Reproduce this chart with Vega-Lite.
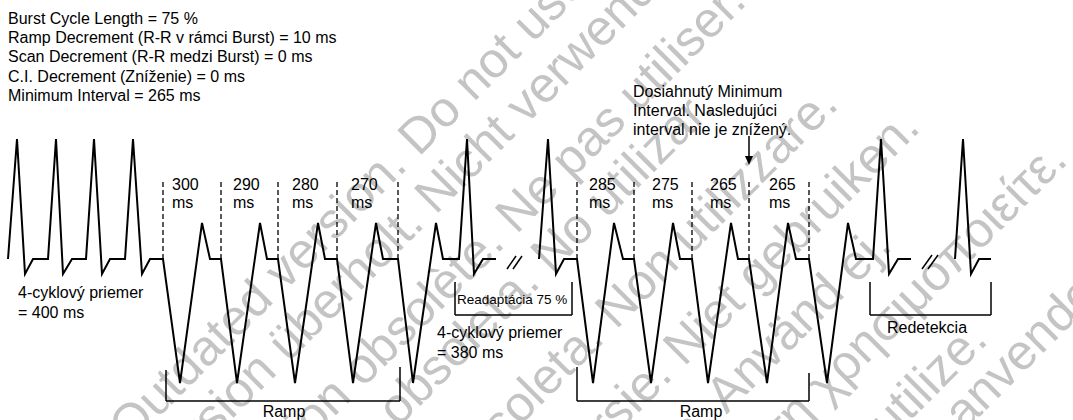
{
  "$schema": "https://vega.github.io/schema/vega-lite/v6.json",
  "autosize": "none",
  "width": 1073,
  "height": 420,
  "padding": 0,
  "background": "white",
  "config": {"view": {"stroke": null}, "text": {"font": "Liberation Sans", "color": "#000000"}},
  "datasets": {
    "wm": [
      {"x": 354, "y": 201, "label": "Outdated version. Do not use."},
      {"x": 424, "y": 206, "label": "Version überholt. Nicht verwenden."},
      {"x": 481, "y": 249, "label": "Version obsolète. Ne pas utiliser."},
      {"x": 483, "y": 322, "label": "Versión obsoleta. No utilizar."},
      {"x": 567, "y": 358, "label": "Versione obsoleta. Non utilizzare."},
      {"x": 639, "y": 391, "label": "Verouderde versie. Niet gebruiken."},
      {"x": 653, "y": 467, "label": "Föråldrad version. Använd ej."},
      {"x": 760, "y": 450, "label": "Παλιά έκδοση. Μην τη χρησιμοποιείτε."},
      {"x": 755, "y": 555, "label": "Versão obsoleta. Não utilize."},
      {"x": 827, "y": 548, "label": "Forældet version. Må ikke anvendes."}
    ],
    "ecg": [
      {"seg": 1, "i": 1, "x": 8, "y": 259}, {"seg": 1, "i": 2, "x": 17, "y": 139}, {"seg": 1, "i": 3, "x": 25, "y": 274}, {"seg": 1, "i": 4, "x": 33, "y": 259}, {"seg": 1, "i": 5, "x": 48, "y": 259},
      {"seg": 1, "i": 6, "x": 56, "y": 139}, {"seg": 1, "i": 7, "x": 63, "y": 274}, {"seg": 1, "i": 8, "x": 72, "y": 259}, {"seg": 1, "i": 9, "x": 86, "y": 259},
      {"seg": 1, "i": 10, "x": 94, "y": 139}, {"seg": 1, "i": 11, "x": 102, "y": 274}, {"seg": 1, "i": 12, "x": 110, "y": 259}, {"seg": 1, "i": 13, "x": 125, "y": 259},
      {"seg": 1, "i": 14, "x": 133, "y": 139}, {"seg": 1, "i": 15, "x": 142, "y": 274}, {"seg": 1, "i": 16, "x": 150, "y": 259}, {"seg": 1, "i": 17, "x": 163, "y": 259},
      {"seg": 1, "i": 18, "x": 180, "y": 383}, {"seg": 1, "i": 19, "x": 202, "y": 223}, {"seg": 1, "i": 20, "x": 210, "y": 259}, {"seg": 1, "i": 21, "x": 221, "y": 259},
      {"seg": 1, "i": 22, "x": 237, "y": 383}, {"seg": 1, "i": 23, "x": 260, "y": 223}, {"seg": 1, "i": 24, "x": 267, "y": 259}, {"seg": 1, "i": 25, "x": 278, "y": 259},
      {"seg": 1, "i": 26, "x": 295, "y": 383}, {"seg": 1, "i": 27, "x": 318, "y": 223}, {"seg": 1, "i": 28, "x": 325, "y": 259}, {"seg": 1, "i": 29, "x": 337, "y": 259},
      {"seg": 1, "i": 30, "x": 353, "y": 383}, {"seg": 1, "i": 31, "x": 376, "y": 223}, {"seg": 1, "i": 32, "x": 383, "y": 259}, {"seg": 1, "i": 33, "x": 398, "y": 259},
      {"seg": 1, "i": 34, "x": 413, "y": 383}, {"seg": 1, "i": 35, "x": 436, "y": 223}, {"seg": 1, "i": 36, "x": 443, "y": 259}, {"seg": 1, "i": 37, "x": 459, "y": 259},
      {"seg": 1, "i": 38, "x": 467, "y": 139}, {"seg": 1, "i": 39, "x": 474, "y": 274}, {"seg": 1, "i": 40, "x": 483, "y": 259}, {"seg": 1, "i": 41, "x": 496, "y": 259},
      {"seg": 2, "i": 1, "x": 539, "y": 259}, {"seg": 2, "i": 2, "x": 548, "y": 139}, {"seg": 2, "i": 3, "x": 556, "y": 274}, {"seg": 2, "i": 4, "x": 564, "y": 259}, {"seg": 2, "i": 5, "x": 577, "y": 259},
      {"seg": 2, "i": 6, "x": 593, "y": 383}, {"seg": 2, "i": 7, "x": 614, "y": 223}, {"seg": 2, "i": 8, "x": 623, "y": 259}, {"seg": 2, "i": 9, "x": 634, "y": 259},
      {"seg": 2, "i": 10, "x": 651, "y": 383}, {"seg": 2, "i": 11, "x": 673, "y": 223}, {"seg": 2, "i": 12, "x": 680, "y": 259}, {"seg": 2, "i": 13, "x": 692, "y": 259},
      {"seg": 2, "i": 14, "x": 708, "y": 383}, {"seg": 2, "i": 15, "x": 731, "y": 223}, {"seg": 2, "i": 16, "x": 738, "y": 259}, {"seg": 2, "i": 17, "x": 749, "y": 259},
      {"seg": 2, "i": 18, "x": 767, "y": 383}, {"seg": 2, "i": 19, "x": 788, "y": 223}, {"seg": 2, "i": 20, "x": 796, "y": 259}, {"seg": 2, "i": 21, "x": 809, "y": 259},
      {"seg": 2, "i": 22, "x": 827, "y": 383}, {"seg": 2, "i": 23, "x": 848, "y": 223}, {"seg": 2, "i": 24, "x": 856, "y": 259}, {"seg": 2, "i": 25, "x": 873, "y": 259},
      {"seg": 2, "i": 26, "x": 881, "y": 139}, {"seg": 2, "i": 27, "x": 889, "y": 274}, {"seg": 2, "i": 28, "x": 898, "y": 259}, {"seg": 2, "i": 29, "x": 911, "y": 259},
      {"seg": 3, "i": 1, "x": 955, "y": 259}, {"seg": 3, "i": 2, "x": 963, "y": 139}, {"seg": 3, "i": 3, "x": 971, "y": 274}, {"seg": 3, "i": 4, "x": 979, "y": 259}, {"seg": 3, "i": 5, "x": 991, "y": 259}
    ],
    "segs": [
      {"x": 507, "y": 269, "x2": 516, "y2": 256},
      {"x": 513, "y": 269, "x2": 522, "y2": 256},
      {"x": 922, "y": 269, "x2": 932, "y2": 255},
      {"x": 928, "y": 269, "x2": 938, "y2": 255},
      {"x": 166, "y": 370, "x2": 166, "y2": 401},
      {"x": 166, "y": 401, "x2": 400, "y2": 401},
      {"x": 400, "y": 367, "x2": 400, "y2": 401},
      {"x": 455, "y": 282, "x2": 455, "y2": 315},
      {"x": 455, "y": 315, "x2": 572, "y2": 315},
      {"x": 572, "y": 282, "x2": 572, "y2": 315},
      {"x": 577, "y": 367, "x2": 577, "y2": 401},
      {"x": 577, "y": 401, "x2": 809, "y2": 401},
      {"x": 809, "y": 373, "x2": 809, "y2": 401},
      {"x": 870, "y": 282, "x2": 870, "y2": 315},
      {"x": 870, "y": 315, "x2": 991, "y2": 315},
      {"x": 991, "y": 282, "x2": 991, "y2": 315},
      {"x": 749, "y": 136, "x2": 749, "y2": 158}
    ],
    "dashes": [
      {"x": 163, "y": 182, "y2": 259}, {"x": 221, "y": 182, "y2": 259}, {"x": 278, "y": 182, "y2": 259}, {"x": 337, "y": 182, "y2": 259}, {"x": 398, "y": 182, "y2": 259},
      {"x": 577, "y": 182, "y2": 259}, {"x": 634, "y": 182, "y2": 259}, {"x": 692, "y": 182, "y2": 259}, {"x": 749, "y": 182, "y2": 259}, {"x": 809, "y": 182, "y2": 259}
    ],
    "head": [{"x": 749, "y": 160}],
    "txtL": [
      {"x": 8, "y": 19, "label": "Burst Cycle Length = 75 %"},
      {"x": 8, "y": 38, "label": "Ramp Decrement (R-R v rámci Burst) = 10 ms"},
      {"x": 8, "y": 57, "label": "Scan Decrement (R-R medzi Burst) = 0 ms"},
      {"x": 8, "y": 77, "label": "C.I. Decrement (Zníženie) = 0 ms"},
      {"x": 8, "y": 96, "label": "Minimum Interval = 265 ms"},
      {"x": 18, "y": 293, "label": "4-cyklový priemer"},
      {"x": 18, "y": 313, "label": "= 400 ms"},
      {"x": 437, "y": 333, "label": "4-cyklový priemer"},
      {"x": 437, "y": 353, "label": "= 380 ms"},
      {"x": 633, "y": 92, "label": "Dosiahnutý Minimum"},
      {"x": 633, "y": 111, "label": "Interval. Nasledujúci"},
      {"x": 633, "y": 130, "label": "interval nie je znížený."},
      {"x": 172, "y": 185, "label": "300"}, {"x": 172, "y": 203, "label": "ms"},
      {"x": 233, "y": 185, "label": "290"}, {"x": 233, "y": 203, "label": "ms"},
      {"x": 292, "y": 185, "label": "280"}, {"x": 292, "y": 203, "label": "ms"},
      {"x": 351, "y": 185, "label": "270"}, {"x": 351, "y": 203, "label": "ms"},
      {"x": 589, "y": 185, "label": "285"}, {"x": 589, "y": 203, "label": "ms"},
      {"x": 652, "y": 185, "label": "275"}, {"x": 652, "y": 203, "label": "ms"},
      {"x": 710, "y": 185, "label": "265"}, {"x": 710, "y": 203, "label": "ms"},
      {"x": 769, "y": 185, "label": "265"}, {"x": 769, "y": 203, "label": "ms"}
    ],
    "txtC": [
      {"x": 284, "y": 412, "label": "Ramp"},
      {"x": 701, "y": 412, "label": "Ramp"},
      {"x": 927, "y": 328, "label": "Redetekcia"}
    ],
    "txtS": [
      {"x": 457, "y": 300, "label": "Readaptácia 75 %"}
    ]
  },
  "layer": [
    {
      "data": {"name": "wm"},
      "mark": {"type": "text", "font": "Liberation Sans", "fontSize": 50, "angle": -45, "align": "center", "baseline": "middle", "color": "#c4c4c4", "clip": true},
      "encoding": {
        "x": {"field": "x", "type": "quantitative", "scale": {"domain": [0, 1073], "nice": false, "zero": false}, "axis": null},
        "y": {"field": "y", "type": "quantitative", "scale": {"domain": [0, 420], "nice": false, "zero": false, "reverse": true}, "axis": null},
        "text": {"field": "label"}
      }
    },
    {
      "data": {"name": "dashes"},
      "mark": {"type": "rule", "color": "#000000", "strokeWidth": 1.3, "strokeDash": [5, 3]},
      "encoding": {
        "x": {"field": "x", "type": "quantitative"},
        "y": {"field": "y", "type": "quantitative"},
        "y2": {"field": "y2"}
      }
    },
    {
      "data": {"name": "segs"},
      "mark": {"type": "rule", "color": "#000000", "strokeWidth": 1.5},
      "encoding": {
        "x": {"field": "x", "type": "quantitative"},
        "y": {"field": "y", "type": "quantitative"},
        "x2": {"field": "x2"},
        "y2": {"field": "y2"}
      }
    },
    {
      "data": {"name": "ecg"},
      "mark": {"type": "line", "color": "#000000", "strokeWidth": 2},
      "encoding": {
        "x": {"field": "x", "type": "quantitative"},
        "y": {"field": "y", "type": "quantitative"},
        "detail": {"field": "seg", "type": "nominal"},
        "order": {"field": "i", "type": "quantitative"}
      }
    },
    {
      "data": {"name": "head"},
      "mark": {"type": "point", "shape": "M-1,-1L1,-1L0,1.25Z", "filled": true, "color": "#000000", "size": 64, "opacity": 1},
      "encoding": {
        "x": {"field": "x", "type": "quantitative"},
        "y": {"field": "y", "type": "quantitative"}
      }
    },
    {
      "data": {"name": "txtL"},
      "mark": {"type": "text", "fontSize": 16, "align": "left", "baseline": "middle"},
      "encoding": {
        "x": {"field": "x", "type": "quantitative"},
        "y": {"field": "y", "type": "quantitative"},
        "text": {"field": "label"}
      }
    },
    {
      "data": {"name": "txtC"},
      "mark": {"type": "text", "fontSize": 16, "align": "center", "baseline": "middle"},
      "encoding": {
        "x": {"field": "x", "type": "quantitative"},
        "y": {"field": "y", "type": "quantitative"},
        "text": {"field": "label"}
      }
    },
    {
      "data": {"name": "txtS"},
      "mark": {"type": "text", "fontSize": 13.5, "align": "left", "baseline": "middle"},
      "encoding": {
        "x": {"field": "x", "type": "quantitative"},
        "y": {"field": "y", "type": "quantitative"},
        "text": {"field": "label"}
      }
    }
  ]
}
